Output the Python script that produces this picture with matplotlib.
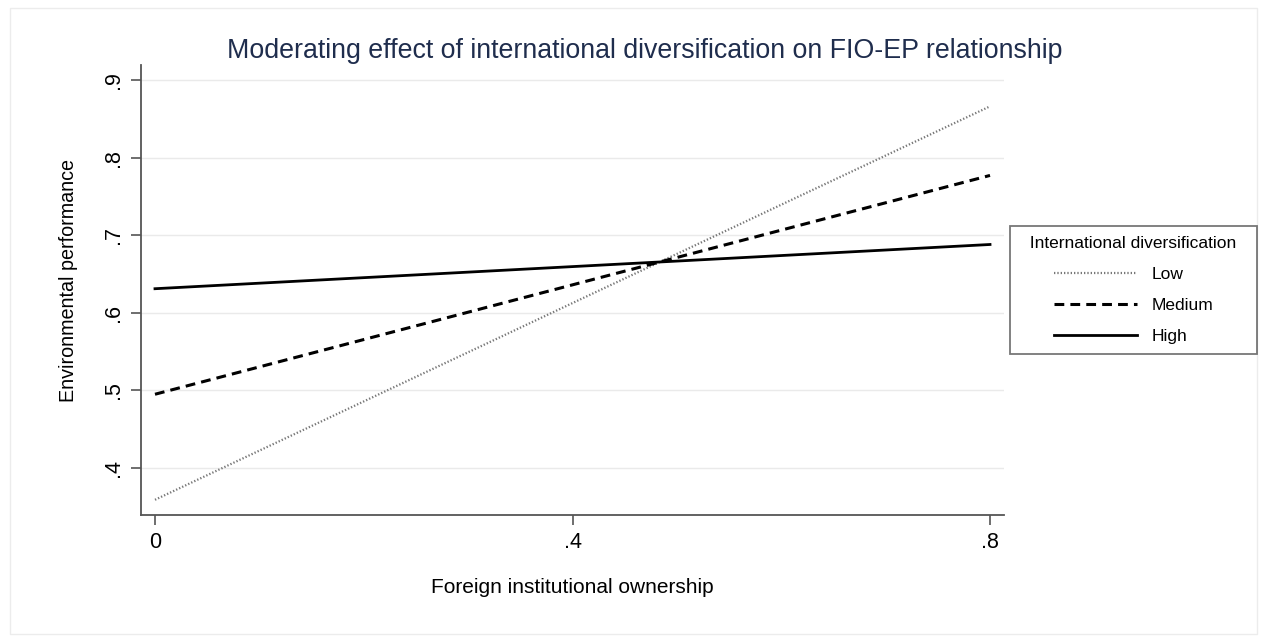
import matplotlib
matplotlib.use("Agg")
import matplotlib.pyplot as plt
from matplotlib.patches import Rectangle
import numpy as np

plt.rcParams['font.family'] = ['Liberation Sans', 'DejaVu Sans']

# Data
fio = [0.0, 0.8]
low = [0.359, 0.866]
medium = [0.495, 0.777]
high = [0.631, 0.688]
xticks = [0.0, 0.4, 0.8]
xticklabels = ["0", ".4", ".8"]
yticks = [0.4, 0.5, 0.6, 0.7, 0.8, 0.9]
yticklabels = [".4", ".5", ".6", ".7", ".8", ".9"]

W, H = 1267, 642
fig = plt.figure(figsize=(W / 100, H / 100), dpi=100)
fig.patch.set_facecolor("white")

# faint outer frame
fig.patches.append(Rectangle((10 / W, 8 / H), 1 - 20 / W, 1 - 16 / H,
                             transform=fig.transFigure, fill=False,
                             edgecolor="#ececec", lw=1.0))

ax = fig.add_axes([141 / W, 1 - 515 / H, (1004 - 141) / W, (515 - 65) / H])
ax.set_xlim(-0.0134, 0.8134)
ax.set_ylim(0.3394, 0.9193)

for y in yticks:
    ax.axhline(y, color="#eaeaea", lw=1.0, zorder=0)

l1, = ax.plot(fio, low, color="#777777", lw=1.6, ls=(0, (0.6, 0.9)), label="Low")
l2, = ax.plot(fio, medium, color="black", lw=2.2, ls=(0, (3.2, 2.0)), label="Medium")
l3, = ax.plot(fio, high, color="black", lw=2.0, ls="-", label="High")

for s in ["top", "right"]:
    ax.spines[s].set_visible(False)
for s in ["left", "bottom"]:
    ax.spines[s].set_color("#555555")
    ax.spines[s].set_linewidth(1.3)

ax.set_xticks(xticks)
ax.set_xticklabels(xticklabels, fontsize=15.5)
ax.set_yticks(yticks)
ax.set_yticklabels(yticklabels, fontsize=15.5, rotation=90, va="center")
ax.tick_params(axis="both", direction="out", length=7, width=1.2, color="#555555", pad=5)

ax.set_xlabel("Foreign institutional ownership", fontsize=15, labelpad=18)
ax.set_ylabel("Environmental performance", fontsize=14.2)
ax.yaxis.set_label_coords(-0.073, 0.52)

fig.text(645 / W, 1 - 51 / H,
         "Moderating effect of international diversification on FIO-EP relationship",
         ha="center", va="center", fontsize=19.3, color="#1f2d4d")

leg = fig.legend(handles=[l1, l2, l3], loc="upper left",
                 bbox_to_anchor=(1010 / W, 1 - 226 / H),
                 title="  International diversification  ", title_fontsize=12.5,
                 fontsize=12.5, frameon=True, fancybox=False, handlelength=4.8,
                 handletextpad=0.8, labelspacing=0.9, borderpad=0.6,
                 borderaxespad=0)
leg.get_frame().set_edgecolor("#555555")
leg.get_frame().set_linewidth(1.3)
leg.get_title().set_ha("center")

fig.savefig("out.png", dpi=100)
